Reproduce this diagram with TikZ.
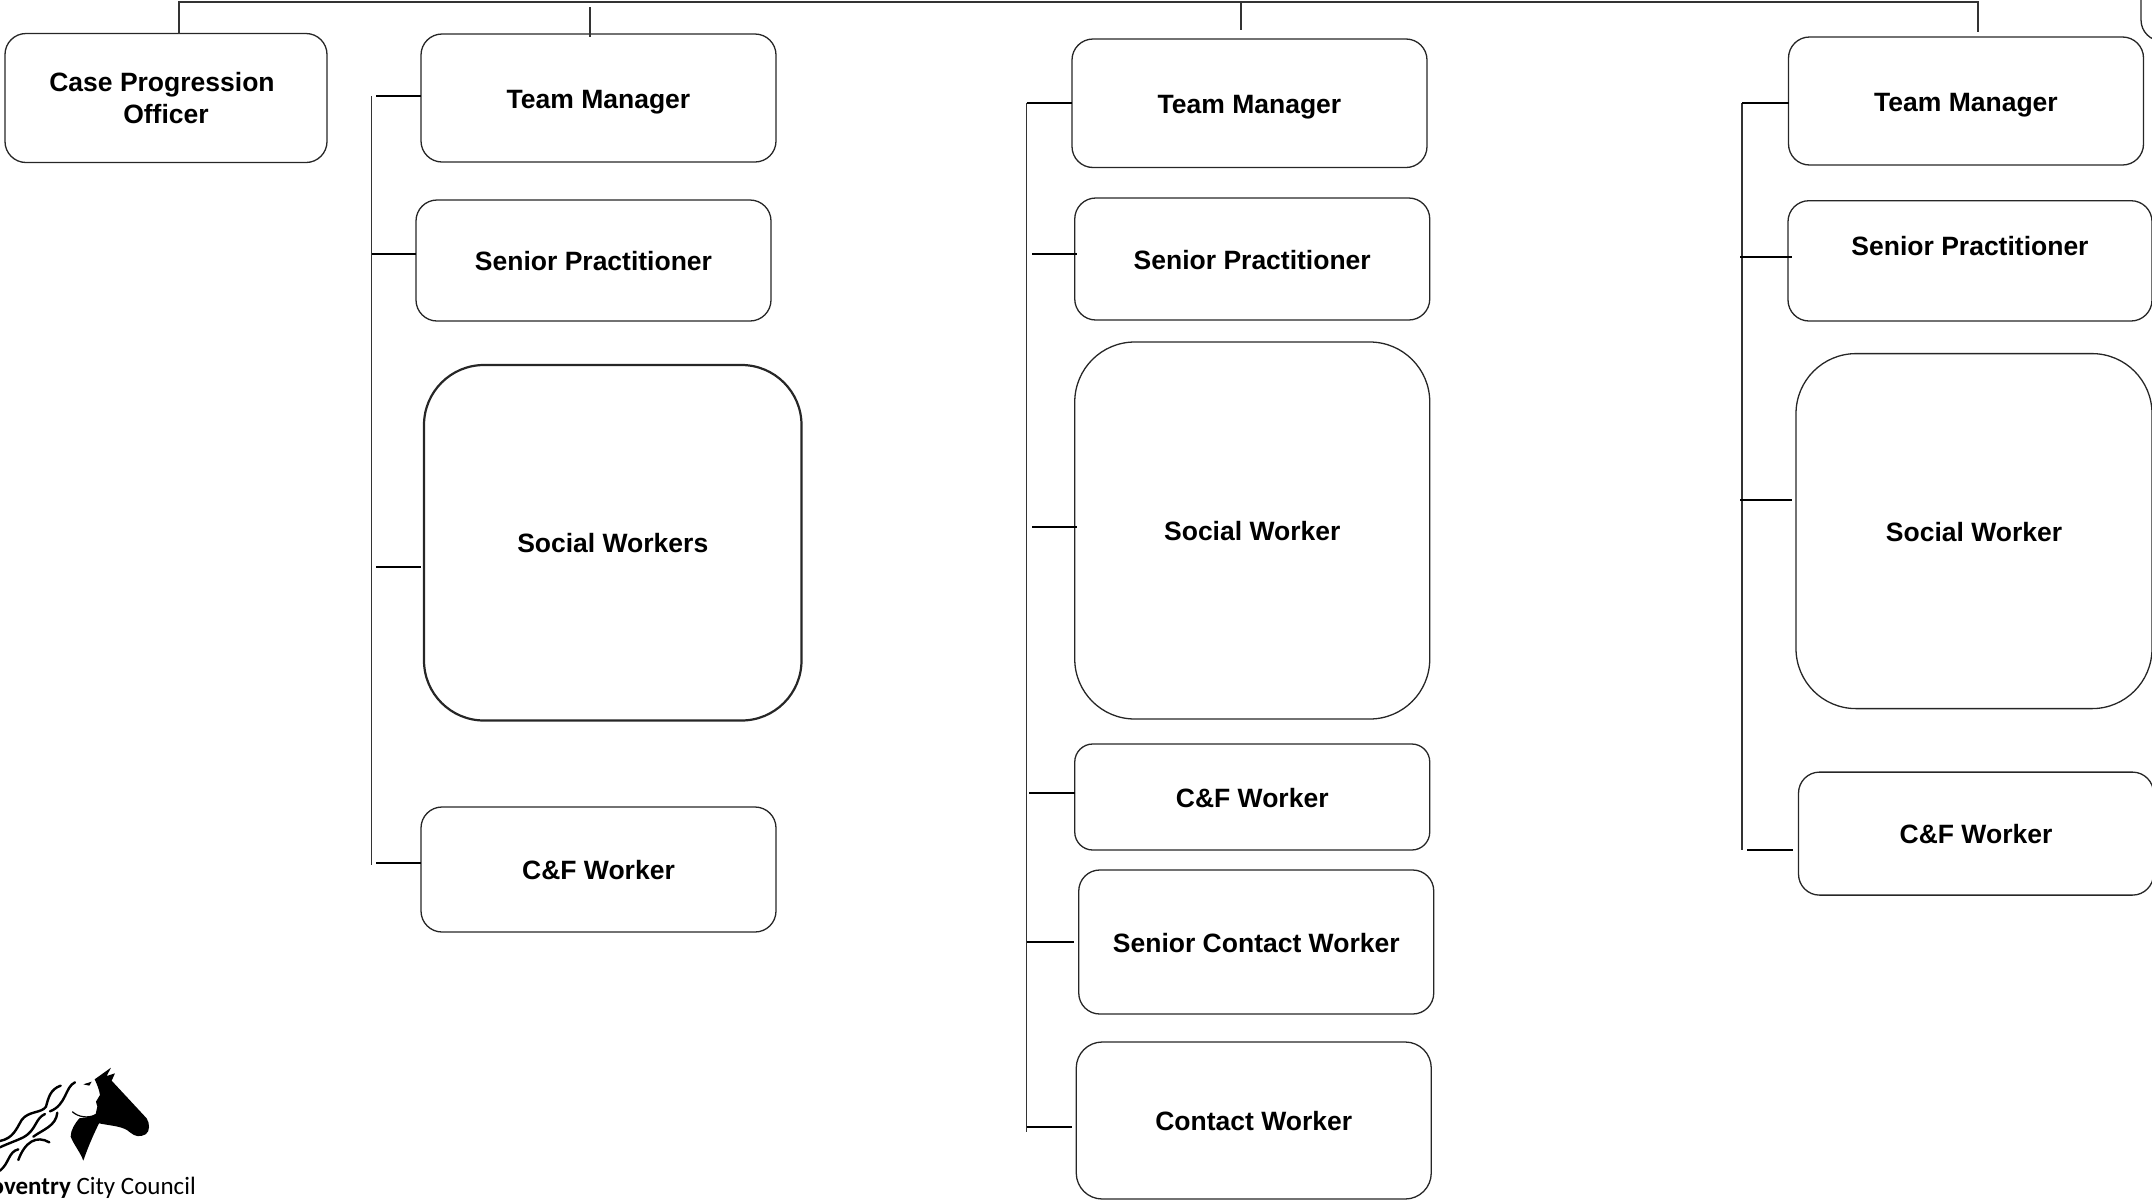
\documentclass[tikz,border=0pt]{standalone}
\usepackage{fontspec}
\setmainfont{Liberation Sans}
\newfontfamily\logofont{Carlito}
\usetikzlibrary{positioning}
\tikzset{
	rolebox/.style={draw=black!85, line width=1.3pt, rounded corners=21pt, align=center, inner sep=0pt, outer sep=0pt, minimum width=355pt, font=\fontsize{26.5pt}{32pt}\selectfont\bfseries},
	roleline/.style={rolebox, text height=23pt, text depth=3pt},
	bigbox/.style={roleline, rounded corners=60pt},
	rolelabel/.style={inner sep=0pt, font=\fontsize{26.5pt}{32pt}\selectfont\bfseries},
	bus/.style={draw=black!80, line width=1.4pt},
	spine/.style={draw=black!80, line width=1.3pt},
	tick/.style={draw=black, line width=1.8pt},
	hair/.style={draw=black, line width=2.4pt, line cap=round}
}

\begin{document}
\begin{tikzpicture}[x=1pt,y=-1pt]
			\useasboundingbox (0,0) rectangle (2152,1200) ;
			\clip (0,0) rectangle (2152,1200) ;
			% left hand box
			\node[rolebox, minimum width=322pt, minimum height=129pt] (caseOfficer) at (166,98) {Case Progression\hspace*{8pt}\\Officer} ;
			% first team
			\node[roleline, minimum height=128pt] (tmA) at (598.5,98) {Team Manager} ;
			\node[roleline, minimum height=121pt, below=38pt of tmA, xshift=-5pt] (spA) {Senior Practitioner} ;
			\node[bigbox, line width=2.2pt, minimum width=377.5pt, minimum height=355.5pt, below=44pt of spA, xshift=19.25pt] (swA) {Social Workers} ;
			\node[roleline, minimum height=125pt, below=86.5pt of swA, xshift=-14.25pt] (cfA) {C\&F Worker} ;
			% second team
			\node[roleline, minimum height=128.5pt] (tmB) at (1249.5,103.25) {Team Manager} ;
			\node[roleline, minimum height=122pt, below=30.5pt of tmB, xshift=2.75pt] (spB) {Senior Practitioner} ;
			\node[bigbox, minimum height=377pt, below=22pt of spB] (swB) {Social Worker} ;
			\node[roleline, rounded corners=18pt, minimum height=106pt, below=25pt of swB] (cfB) {C\&F Worker} ;
			\node[roleline, minimum height=144pt, below=20pt of cfB, xshift=4pt] (scwB) {Senior Contact Worker} ;
			\node[roleline, rounded corners=26pt, minimum height=157pt, below=28pt of scwB, xshift=-2.5pt] (cwB) {Contact Worker} ;
			% third team
			\node[roleline, minimum height=128pt] (tmC) at (1966,101) {Team Manager} ;
			\node[rolebox, minimum width=364pt, minimum height=120.3pt, below=35.7pt of tmC, xshift=4pt] (spC) {} ;
			\node[rolelabel] (spClabel) at ([yshift=15pt]spC.center) {Senior Practitioner} ;
			\node[bigbox, minimum width=356pt, minimum height=355pt, below=32.6pt of spC, xshift=4pt] (swC) {Social Worker} ;
			\node[roleline, minimum height=123pt, below=63.5pt of swC, xshift=2pt] (cfC) {C\&F Worker} ;
			\node[rolebox, minimum width=318pt, minimum height=162pt] (cornerBox) at (2300,-40) {} ;
			% line along the top
			\coordinate (busL) at (179,2) ;
			\coordinate (busR) at (1978,2) ;
			\coordinate (stubA) at (590,7) ;
			\coordinate (stubB) at (1241,2) ;
			\draw[bus] (caseOfficer.north -| busL) -- (busL) -- (busR) -- ([yshift=5pt]tmC.north -| busR) ;
			\draw[bus, shorten >=-3pt] (stubA) -- (tmA.north -| stubA) ;
			\draw[bus, shorten >=9pt] (stubB) -- (tmB.north -| stubB) ;
			% first team lines
			\coordinate (spineAtop) at (371.5,96) ;
			\coordinate (spineAend) at (371.5,865) ;
			\draw[spine] (spineAtop) -- (spineAend) ;
			\coordinate (tickA1) at (376,95.7) ;
			\coordinate (tickA2) at (372,254) ;
			\coordinate (tickA3) at (376,567) ;
			\coordinate (tickA4) at (376,863) ;
			\draw[tick] (tickA1) -- (tickA1 -| tmA.west) ;
			\draw[tick] (tickA2) -- (tickA2 -| spA.west) ;
			\draw[tick, shorten >=3pt] (tickA3) -- (tickA3 -| swA.west) ;
			\draw[tick] (tickA4) -- (tickA4 -| cfA.west) ;
			% second team lines
			\coordinate (spineBtop) at (1026.7,103) ;
			\coordinate (spineBend) at (1026.7,1131.7) ;
			\draw[spine] (spineBtop) -- (spineBend) ;
			\coordinate (tickB1) at (1026.7,103) ;
			\coordinate (tickB2) at (1032,254) ;
			\coordinate (tickB3) at (1032,527) ;
			\coordinate (tickB4) at (1029,793) ;
			\coordinate (tickB5) at (1026.7,942) ;
			\coordinate (tickB6) at (1026.7,1127) ;
			\draw[tick] (tickB1) -- (tickB1 -| tmB.west) ;
			\draw[tick, shorten >=-2.5pt] (tickB2) -- (tickB2 -| spB.west) ;
			\draw[tick, shorten >=-2.5pt] (tickB3) -- (tickB3 -| swB.west) ;
			\draw[tick] (tickB4) -- (tickB4 -| cfB.west) ;
			\draw[tick, shorten >=5pt] (tickB5) -- (tickB5 -| scwB.west) ;
			\draw[tick, shorten >=4pt] (tickB6) -- (tickB6 -| cwB.west) ;
			% third team lines
			\coordinate (spineCtop) at (1742,103) ;
			\coordinate (spineCend) at (1742,850) ;
			\draw[spine] (spineCtop) -- (spineCend) ;
			\coordinate (tickC1) at (1742,103) ;
			\coordinate (tickC2) at (1740,257) ;
			\coordinate (tickC3) at (1740,499.6) ;
			\coordinate (tickC4) at (1747,849.8) ;
			\draw[tick] (tickC1) -- (tickC1 -| tmC.west) ;
			\draw[tick, shorten >=-4pt] (tickC2) -- (tickC2 -| spC.west) ;
			\draw[tick, shorten >=4pt] (tickC3) -- (tickC3 -| swC.west) ;
			\draw[tick, shorten >=6pt] (tickC4) -- (tickC4 -| cfC.west) ;
			% logo
			\begin{scope}[shift={(0,1040)}, x=0.3333pt, y=-0.3333pt]
				\fill (284,118) -- (333,83) -- (320,108) -- (345,100) -- (335,122) -- (440,235) .. controls (450,250) and (450,275) .. (437,283) .. controls (420,292) and (405,290) .. (390,277) .. controls (370,258) and (335,258) .. (297,250) .. controls (285,275) and (268,310) .. (250,362) .. controls (240,335) and (222,315) .. (212,290) .. controls (212,270) and (225,250) .. (238,235) .. controls (255,232) and (275,232) .. (287,222) -- (292,200) -- (288,185) -- (300,165) .. controls (298,150) and (290,130) .. (284,118) -- cycle ;
				\fill (250,133) -- (275,125) -- (268,137) -- cycle ;
				\draw[black, line width=1.2pt] (217,215) .. controls (235,232) and (265,235) .. (285,225) ;
				\draw[hair] (182,137) .. controls (150,148) and (145,175) .. (138,200) .. controls (125,220) and (85,212) .. (65,240) .. controls (50,265) and (40,295) .. (0,303) ;
				\draw[hair] (225,127) .. controls (195,140) and (200,195) .. (150,214) ;
				\draw[hair] (135,222) .. controls (105,235) and (110,270) .. (70,292) .. controls (50,302) and (20,312) .. (0,322) ;
				\draw[hair] (172,218) .. controls (168,258) and (130,268) .. (100,290) ;
				\draw[hair] (148,307) .. controls (110,285) and (75,305) .. (55,360) ;
				\draw[hair] (55,328) .. controls (25,335) and (28,370) .. (0,392) ;
			\end{scope}
			\node[anchor=base east, inner sep=0pt, font=\logofont\fontsize{25pt}{30pt}\selectfont] (logoText) at (196,1194) {\textbf{Coventry} City Council} ;
		\end{tikzpicture}
\end{document}
